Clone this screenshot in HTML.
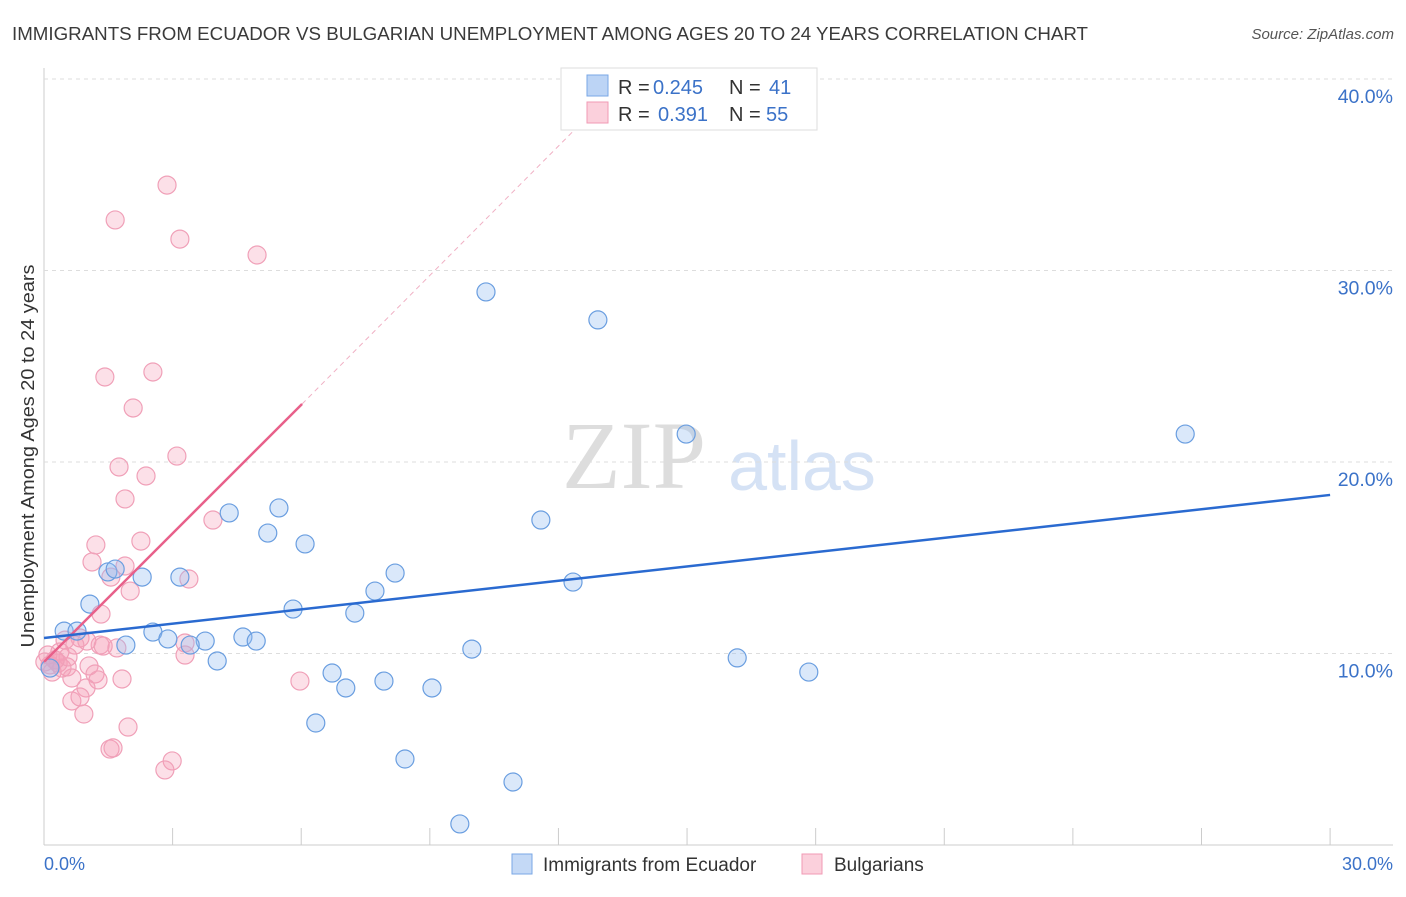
<!DOCTYPE html>
<html><head><meta charset="utf-8"><style>
body{margin:0;background:#fff;font-family:"Liberation Sans",sans-serif;}
</style></head><body>
<svg id="c" width="1406" height="892" xmlns="http://www.w3.org/2000/svg">
<text x="12" y="40" font-size="18" fill="#3a3a3a" textLength="1076" lengthAdjust="spacingAndGlyphs">IMMIGRANTS FROM ECUADOR VS BULGARIAN UNEMPLOYMENT AMONG AGES 20 TO 24 YEARS CORRELATION CHART</text>
<text x="1394" y="39" font-size="15" fill="#555" font-style="italic" text-anchor="end">Source: ZipAtlas.com</text>
<text x="634" y="488" font-size="96" fill="#ddd" font-family="Liberation Serif" text-anchor="middle">ZIP</text>
<text x="802" y="490" font-size="70" fill="#d5e2f5" text-anchor="middle">atlas</text>
<g id="grid"></g><g id="pts"></g><g id="trend"></g>
<text transform="translate(34,456) rotate(-90)" font-size="18" fill="#333" text-anchor="middle" textLength="383" lengthAdjust="spacingAndGlyphs">Unemployment Among Ages 20 to 24 years</text>
<text x="44" y="870" font-size="18" fill="#3b72c8">0.0%</text>
<text x="1393" y="870" font-size="18" fill="#3b72c8" text-anchor="end">30.0%</text>
<g>
<rect x="512" y="854" width="20" height="20" fill="#c4d9f6" stroke="#7aa7e6"/>
<text x="543" y="871" font-size="19" fill="#333">Immigrants from Ecuador</text>
<rect x="802" y="854" width="20" height="20" fill="#fbd0dc" stroke="#f09ab4"/>
<text x="834" y="871" font-size="19" fill="#333">Bulgarians</text>
</g>
<g>
<rect x="561" y="68" width="256" height="62" fill="#fff" stroke="#ddd"/>
<rect x="587" y="75" width="21" height="21" fill="#bcd4f5" stroke="#7aa7e6"/>
<rect x="587" y="102" width="21" height="21" fill="#fbd0dc" stroke="#f09ab4"/>
<text y="94" font-size="20"><tspan x="618" fill="#333">R = </tspan><tspan x="653" fill="#3b72c8">0.245</tspan><tspan x="729" fill="#333">N = </tspan><tspan x="769" fill="#3b72c8">41</tspan></text>
<text y="121" font-size="20"><tspan x="618" fill="#333">R = </tspan><tspan x="658" fill="#3b72c8">0.391</tspan><tspan x="729" fill="#333">N = </tspan><tspan x="766" fill="#3b72c8">55</tspan></text>
</g>
</svg>
<script>
const yTicks=[10,20,30,40];
const yTickLabels=["10.0%","20.0%","30.0%","40.0%"];
const xTicks=[0,3,6,9,12,15,18,21,24,27,30];
const ecuadorX=[10.31,12.92,14.98,26.62,11.59,4.32,5.48,5.22,6.09,1.49,1.66,2.29,3.17,8.19,12.34,7.72,1.07,5.81,7.25,0.47,0.77,2.54,2.89,3.76,4.64,4.95,3.41,1.91,4.04,9.98,16.17,17.84,6.72,7.04,7.93,9.05,6.34,8.42,10.94,9.70,0.14];
const ecuadorY=[28.88,27.42,21.46,21.46,16.97,17.34,17.60,16.29,15.72,14.26,14.41,13.99,13.99,14.20,13.73,13.26,12.58,12.32,12.11,11.17,11.17,11.12,10.76,10.65,10.86,10.65,10.44,10.44,9.61,10.23,9.77,9.03,8.98,8.20,8.56,8.20,6.37,4.49,3.29,1.10,9.24];
const bulgX=[2.87,1.66,3.17,4.97,1.42,2.54,2.08,3.10,1.75,2.38,1.89,3.94,1.21,2.26,1.12,1.89,1.56,3.38,2.01,1.33,0.84,0.49,1.31,1.00,0.72,1.70,3.29,1.38,3.29,0.37,0.26,0.14,0.33,0.54,1.05,0.65,1.19,1.26,1.82,5.97,0.98,0.65,0.84,0.93,1.96,1.54,1.61,2.99,2.82,0.19,0.09,0.42,0.56,0.02,0.26];
const bulgY=[34.46,32.64,31.64,30.81,24.44,24.70,22.82,20.31,19.74,19.27,18.07,16.97,15.67,15.87,14.78,14.57,13.99,13.89,13.26,12.06,10.81,10.70,10.44,10.65,10.44,10.29,10.55,10.39,9.92,10.08,9.66,9.40,9.50,9.30,9.35,8.72,8.93,8.62,8.67,8.56,8.20,7.52,7.73,6.84,6.16,5.01,5.07,4.39,3.92,9.03,9.92,9.24,9.82,9.56,9.66];
const ecuadorTrend=[[0,10.81],[30,18.28]];
const bulgTrend=[[0,9.56],[6.02,23.03]];
const bulgTrendExt=[[6.02,23.03],[12.4,37.4]];
const sx=v=>44+v*42.87, sy=v=>845-v*19.15;
const NS="http://www.w3.org/2000/svg";
function mk(t,a,p){const e=document.createElementNS(NS,t);for(const k in a)e.setAttribute(k,a[k]);p.appendChild(e);return e;}
const g=document.getElementById('grid');
let ax=mk('line',{x1:44,y1:68,x2:44,y2:845,stroke:'#ccc'},g);


let bx=mk('line',{x1:44,y1:845,x2:1393,y2:845,stroke:'#ccc'},g);


yTicks.forEach((v,i)=>{
 const l=mk('line',{x1:44,y1:sy(v),x2:1393,y2:sy(v),stroke:'#ddd','stroke-dasharray':'4,4'},g);
 
 
 const t=mk('text',{x:1393,y:sy(v)+24,'font-size':19.5,fill:'#3b72c8','text-anchor':'end'},g);
 t.textContent=yTickLabels[i];
 
 
});
xTicks.forEach(v=>{
 const l=mk('line',{x1:sx(v),y1:828,x2:sx(v),y2:845,stroke:'#ccc'},g);
 
 
});
const p=document.getElementById('pts');
function pts(X,Y,fill,stroke,name){X.forEach((x,i)=>{
 const c=mk('circle',{cx:sx(x),cy:sy(Y[i]),r:9,fill:fill,stroke:stroke,'stroke-width':1.2},p);
 
 
});}
pts(bulgX,bulgY,'rgba(245,160,185,0.32)','#f0a0b8','bulgarians-point');
pts(ecuadorX,ecuadorY,'rgba(150,188,240,0.35)','#6a9ee0','ecuador-point');
const tr=document.getElementById('trend');
function ln(a,st,w,d,name){const l=mk('line',{x1:sx(a[0][0]),y1:sy(a[0][1]),x2:sx(a[1][0]),y2:sy(a[1][1]),stroke:st,'stroke-width':w},tr);
 if(d)l.setAttribute('stroke-dasharray',d);
 
 }
ln(bulgTrendExt,'#f0b0c4',1,'5,4','bulgarians-trend-extension');
ln(bulgTrend,'#e8608a',2.5,null,'bulgarians-trend-line');
ln(ecuadorTrend,'#2a6ad0',2.5,null,'ecuador-trend-line');
</script>
</body></html>
